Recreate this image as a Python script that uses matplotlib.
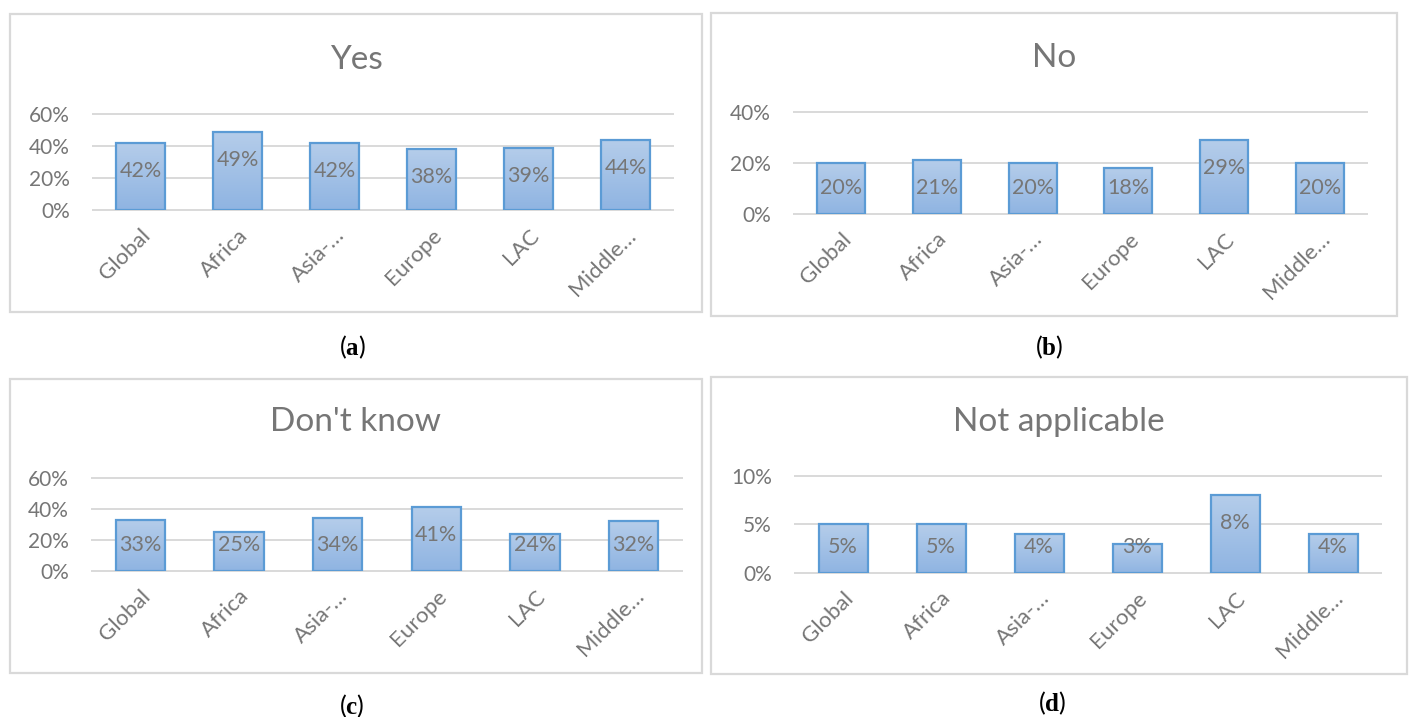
#!/usr/bin/env python3
"""
Four small bar charts (Yes / No / Don't know / Not applicable) by region,
drawn in an Excel-like style with gradient bars and boxed panels.
"""

import matplotlib
matplotlib.use('Agg')
import matplotlib.pyplot as plt
import matplotlib.transforms as mtransforms
import numpy as np
from matplotlib.colors import LinearSegmentedColormap
from matplotlib.patches import Rectangle

# --- data -------------------------------------------------------------------
regions = ['Global', 'Africa', 'Asia-\u2026', 'Europe', 'LAC', 'Middle\u2026']
yes_pct = [42, 49, 42, 38, 39, 44]
no_pct = [20, 21, 20, 18, 29, 20]
dont_know_pct = [33, 25, 34, 41, 24, 32]
not_applicable_pct = [5, 5, 4, 3, 8, 4]

titles = ['Yes', 'No', "Don't know", 'Not applicable']
captions = ['a', 'b', 'c', 'd']
y_max = [60, 40, 60, 10]
y_step = [20, 20, 20, 5]

# --- style ------------------------------------------------------------------
W, H = 1411, 717
TEXT = '#767676'
GRID = '#d9d9d9'
EDGE = '#5b9bd5'
bar_cmap = LinearSegmentedColormap.from_list('bar', ['#8fb4e2', '#b5cdea'])

plt.rcParams['font.family'] = ['Lato', 'DejaVu Sans']
plt.rcParams['mathtext.fontset'] = 'custom'
plt.rcParams['mathtext.rm'] = 'Liberation Serif'
plt.rcParams['mathtext.bf'] = 'Liberation Serif:bold'


def fx(px):
    return px / W


def fy(py):
    return 1 - py / H


def draw_panel(fig, values, title, caption, ymax, ystep, layout):
    """One boxed chart. layout holds pixel positions measured on the page."""
    bx0, by0, bx1, by1 = layout['box']
    fig.add_artist(Rectangle((fx(bx0), fy(by1)), fx(bx1) - fx(bx0),
                             (by1 - by0) / H, transform=fig.transFigure,
                             fill=False, edgecolor=GRID, linewidth=1.6))

    px0, px1, base, top = layout['plot']
    ax = fig.add_axes([fx(px0), fy(base), fx(px1) - fx(px0), (base - top) / H])

    x = np.arange(len(values))
    ticks = np.arange(0, ymax + 1, ystep)
    ax.hlines(ticks, -0.5, len(values) - 0.5, color=GRID, linewidth=1.4,
              zorder=1, clip_on=False)

    # gradient fill, light at the top
    grad = np.linspace(1, 0, 256).reshape(-1, 1)
    for xi, v in zip(x, values):
        ax.imshow(grad, extent=(xi - 0.25, xi + 0.25, 0, v), cmap=bar_cmap,
                  aspect='auto', zorder=2, interpolation='bilinear')
    ax.bar(x, values, width=0.5, facecolor='none', edgecolor=EDGE,
           linewidth=1.6, zorder=3)

    ax.set_xlim(-0.5, len(values) - 0.5)
    ax.set_ylim(0, ymax)

    # data labels: "inside end", but never lower than just above the axis
    px_per_unit = (base - top) / ymax
    for xi, v in zip(x, values):
        off = max(v * px_per_unit - 28, 26)
        ax.text(xi, off / px_per_unit, f'{v}%', ha='center', va='center',
                fontsize=15.5, color=TEXT, zorder=4)

    ax.set_yticks(ticks)
    ax.set_yticklabels([f'{t}%' for t in ticks], fontsize=15, color=TEXT)
    ax.set_xticks(x)
    ax.set_xticklabels(regions, fontsize=16, color=TEXT, rotation=45,
                       ha='right', rotation_mode='anchor')
    # nudge the slanted labels a little to the right, like Excel does
    shift = mtransforms.ScaledTranslation(5 / 100, 0, fig.dpi_scale_trans)
    for lbl in ax.get_xticklabels():
        lbl.set_transform(lbl.get_transform() + shift)
    ax.tick_params(axis='both', length=0)
    ax.tick_params(axis='y', pad=16)
    ax.tick_params(axis='x', pad=11)
    for s in ax.spines.values():
        s.set_visible(False)
    ax.patch.set_alpha(0)

    fig.text(fx((bx0 + bx1) / 2), fy(layout['title_y']), title,
             ha='center', va='center', fontsize=24, color=TEXT)
    cx, cy = layout['caption']
    fig.text(fx(cx), fy(cy), rf'($\mathbf{{{caption}}}$)', ha='center',
             va='center', fontsize=18, color='black')


def main():
    fig = plt.figure(figsize=(W / 100, H / 100), dpi=100)

    series = [yes_pct, no_pct, dont_know_pct, not_applicable_pct]
    layouts = [
        {'box': (10, 14, 702, 312), 'plot': (92, 674, 210, 114),
         'title_y': 60, 'caption': (352, 347)},
        {'box': (711, 13, 1397, 316), 'plot': (793, 1368, 213.7, 112),
         'title_y': 58, 'caption': (1049, 347)},
        {'box': (10, 379, 702, 673), 'plot': (91, 683, 570.7, 477.7),
         'title_y': 422, 'caption': (352, 706)},
        {'box': (711, 377, 1407, 674), 'plot': (794, 1382, 572.7, 475.7),
         'title_y': 422, 'caption': (1052, 703)},
    ]

    for vals, title, cap, ymax, step, lay in zip(series, titles, captions,
                                                 y_max, y_step, layouts):
        draw_panel(fig, vals, title, cap, ymax, step, lay)

    fig.savefig('out.png', dpi=100, facecolor='white')


if __name__ == '__main__':
    main()
